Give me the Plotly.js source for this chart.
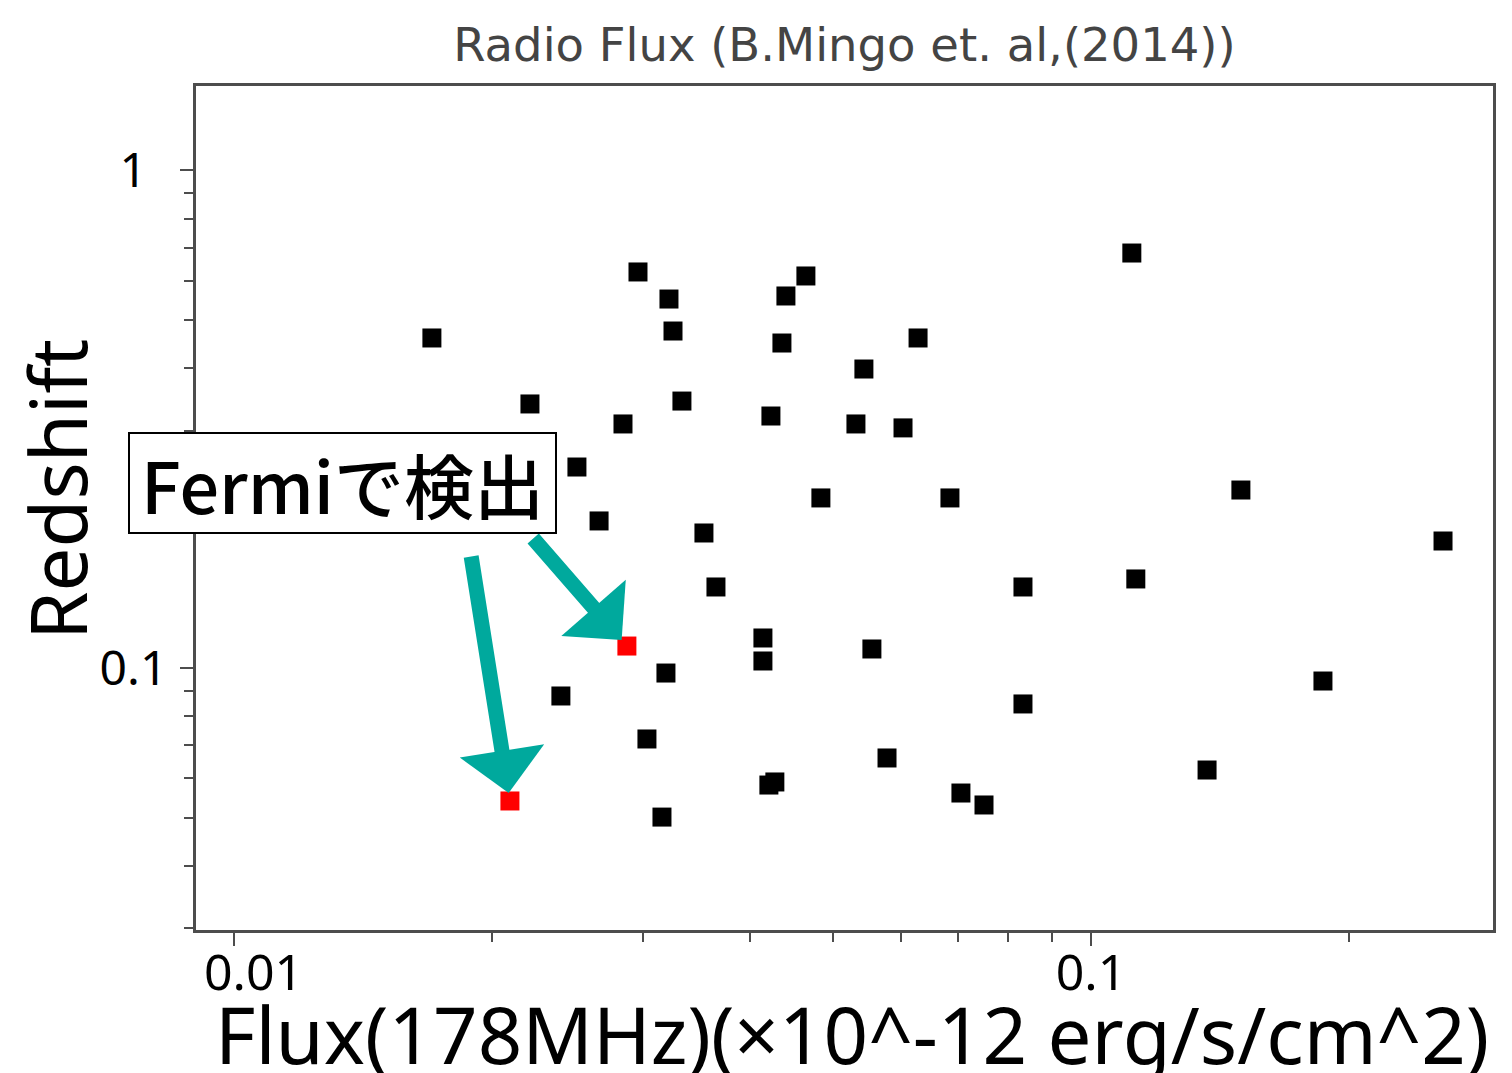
<!DOCTYPE html>
<html>
<head>
<meta charset="utf-8">
<script src="https://cdn.plot.ly/plotly-3.0.1.min.js"></script>
<style>
  html, body { margin: 0; padding: 0; background: #ffffff; }
  #chart { width: 1512px; height: 1073px; }
</style>
</head>
<body>
<div id="chart"></div>
<script>
// ---- data ----
const flux = [
  0.01702, 0.02215, 0.02513, 0.02667, 0.02844, 0.02961, 0.03218, 0.03253, 0.03332, 0.03535,
  0.03651, 0.04232, 0.04359, 0.04406, 0.04649, 0.04840, 0.05318, 0.05433, 0.06035, 0.06284,
  0.06846, 0.08330, 0.1116, 0.1128, 0.1496, 0.2575, 0.02407, 0.02874, 0.02099, 0.03192,
  0.03033, 0.03158, 0.04142, 0.04142, 0.04209, 0.04277, 0.05551, 0.05781, 0.07051, 0.07502,
  0.08330, 0.1366, 0.1865
];
const redshift = [
  0.4606, 0.3394, 0.2535, 0.1975, 0.3094, 0.6252, 0.5516, 0.4757, 0.3440, 0.1868,
  0.1455, 0.3210, 0.4500, 0.5594, 0.6137, 0.2197, 0.3094, 0.3990, 0.3038, 0.4606,
  0.2197, 0.1455, 0.6825, 0.1510, 0.2279, 0.1800, 0.08785, 0.1107, 0.05404, 0.09770,
  0.07200, 0.05016, 0.1149, 0.1033, 0.05818, 0.05901, 0.1092, 0.06594, 0.05607, 0.05305,
  0.08467, 0.06237, 0.09416
];
// 1 = detected by Fermi (red), 0 = not detected (black)
const fermiDetected = [
  0,0,0,0,0,0,0,0,0,0,
  0,0,0,0,0,0,0,0,0,0,
  0,0,0,0,0,0,0,1,1,0,
  0,0,0,0,0,0,0,0,0,0,
  0,0,0
];
const xTickVals = [0.01, 0.1];
const xTickText = ['\u00a0\u00a0\u00a00.01', '0.1'];
const yTickVals = [0.1, 1];
const yTickText = ['0.1', '1\u00a0\u2009'];
const chartTitle = 'Radio Flux (B.Mingo et. al,(2014))';
const xTitle = 'Flux(178MHz)(×10^-12 erg/s/cm^2)';
const yTitle = 'Redshift';
const noteText = 'Fermiで検出';

// ---- split into series ----
const blackX = [], blackY = [], redX = [], redY = [];
for (let i = 0; i < flux.length; i++) {
  if (fermiDetected[i]) { redX.push(flux[i]); redY.push(redshift[i]); }
  else { blackX.push(flux[i]); blackY.push(redshift[i]); }
}

const latin = '"Noto Sans", "Open Sans", sans-serif';
const axisColor = '#4d4d4d';

const traces = [
  {
    x: blackX, y: blackY, type: 'scatter', mode: 'markers',
    marker: { symbol: 'square', size: 19, color: '#000000', line: { width: 0 } },
    hoverinfo: 'x+y', showlegend: false
  },
  {
    x: redX, y: redY, type: 'scatter', mode: 'markers',
    marker: { symbol: 'square', size: 19, color: '#ff0000', line: { width: 0 } },
    hoverinfo: 'x+y', showlegend: false
  }
];

const arrowColor = '#00a99d';
const arrowOffsets = [[-95, -109], [-39, -246]];
const arrowAnns = redX.map((x, i) => ({
  x: Math.log10(x), y: Math.log10(redY[i]), xref: 'x', yref: 'y',
  text: '', showarrow: true, arrowhead: 1, arrowsize: 0.95, arrowwidth: 15,
  arrowcolor: arrowColor, standoff: 8,
  ax: arrowOffsets[i][0], ay: arrowOffsets[i][1]
}));

const layout = {
  width: 1512, height: 1073,
  paper_bgcolor: '#ffffff', plot_bgcolor: '#ffffff',
  margin: { l: 196, r: 19, t: 86, b: 143, pad: 0 },
  title: {
    text: chartTitle,
    font: { family: '"DejaVu Sans", sans-serif', size: 46.5, color: '#444444' },
    x: 0.5, xref: 'paper', xanchor: 'center',
    y: 1 - 45 / 1073, yref: 'container', yanchor: 'middle'
  },
  xaxis: {
    type: 'log', range: [-2.0443, -0.5309], automargin: false,
    showline: true, mirror: true, linecolor: axisColor, linewidth: 3,
    showgrid: false, zeroline: false,
    tickmode: 'array', tickvals: xTickVals, ticktext: xTickText,
    ticks: 'outside', ticklen: 13, tickwidth: 2, tickcolor: axisColor,
    minor: { dtick: 'D1', ticks: 'outside', ticklen: 9, tickwidth: 2, tickcolor: axisColor, showgrid: false },
    ticklabelstandoff: -16,
    tickfont: { family: latin, size: 50, color: '#000000' },
    title: { text: '' }
  },
  yaxis: {
    type: 'log', range: [-1.5266, 0.1698], automargin: false,
    showline: true, mirror: true, linecolor: axisColor, linewidth: 3,
    showgrid: false, zeroline: false,
    tickmode: 'array', tickvals: yTickVals, ticktext: yTickText,
    ticks: 'outside', ticklen: 13, tickwidth: 2, tickcolor: axisColor,
    minor: { dtick: 'D1', ticks: 'outside', ticklen: 9, tickwidth: 2, tickcolor: axisColor, showgrid: false },
    ticklabelstandoff: 3,
    tickfont: { family: latin, size: 48, color: '#000000' },
    title: { text: '' }
  },
  annotations: arrowAnns.concat([
    {
      text: noteText, xref: 'paper', yref: 'paper',
      x: (342 - 196) / 1297, y: 1 - (483 - 86) / 844,
      xanchor: 'center', yanchor: 'middle', showarrow: false,
      font: { family: '"Noto Sans CJK JP", "Noto Sans", sans-serif', size: 70, weight: 500, color: '#000000' },
      bgcolor: '#ffffff', bordercolor: '#000000', borderwidth: 2, borderpad: 0,
      width: 425, height: 98
    },
    {
      // x-axis title
      text: xTitle, xref: 'paper', yref: 'paper',
      x: 0.5058, y: 0, xanchor: 'center', yanchor: 'middle', yshift: -104,
      showarrow: false,
      font: { family: latin, size: 78, color: '#000000' }
    },
    {
      // y-axis title
      text: yTitle, xref: 'paper', yref: 'paper', textangle: -90,
      x: (57 - 196) / 1297, y: 1 - (490 - 86) / 844,
      xanchor: 'center', yanchor: 'middle', showarrow: false,
      font: { family: latin, size: 78, color: '#000000' }
    }
  ])
};

Plotly.newPlot('chart', traces, layout, { displayModeBar: false, staticPlot: true });
</script>
</body>
</html>
